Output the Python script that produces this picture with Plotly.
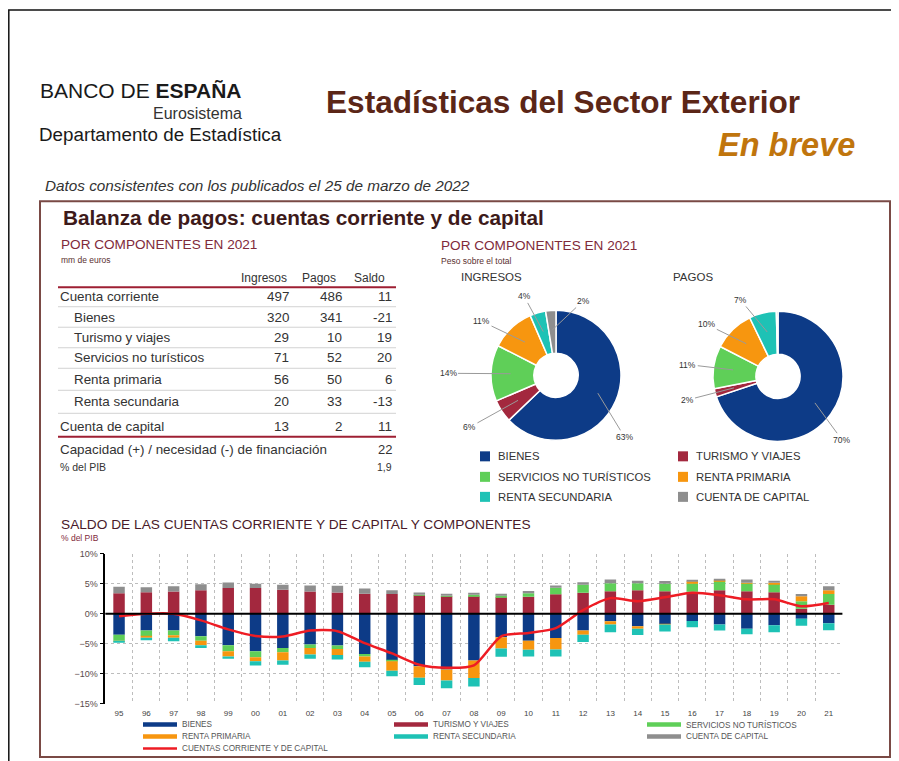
import math
import plotly.graph_objects as go

# page is 899x761; the browser body has an 8px margin. Coordinates below are page pixels.
OFF = 8
W, H = 899 - 2 * OFF, 761 - OFF
def X(px): return (px - OFF) / W
def Y(py):
    s = (py - 5.1) / 0.986
    return 1 - (s - OFF) / H

# ---------------- DATA ----------------
years = list(range(1995, 2022))
year_labels = ['95', '96', '97', '98', '99', '00', '01', '02', '03', '04', '05', '06', '07',
               '08', '09', '10', '11', '12', '13', '14', '15', '16', '17', '18', '19', '20', '21']

bienes = [-3.5, -2.8, -2.8, -3.75, -5.25, -6.25, -5.7, -5.1, -5.3, -6.7, -7.8, -8.75, -9.3,
          -7.8, -3.9, -4.5, -4.05, -2.8, -1.25, -2.1, -1.7, -1.2, -1.8, -2.5, -1.9, -0.85, -1.6]
turismo = [3.4, 3.6, 3.7, 3.9, 4.3, 4.3, 4.0, 3.7, 3.55, 3.35, 3.3, 3.1, 2.9,
           2.9, 2.75, 2.85, 3.25, 3.5, 3.75, 3.9, 3.75, 3.65, 3.9, 3.75, 3.6, 0.85, 1.5]
servicios = [-1.0, -0.9, -0.8, -0.75, -1.0, -1.0, -0.7, -0.6, -0.55, -0.4, -0.1, 0.05, 0.1,
             0.25, 0.3, 0.55, 1.1, 1.35, 1.35, 1.2, 1.25, 1.45, 1.6, 1.35, 1.4, 1.25, 1.8]
renta_prim = [-0.1, -0.3, -0.4, -0.75, -0.85, -0.65, -1.4, -1.1, -1.0, -0.9, -1.6, -1.9, -1.8,
              -2.9, -1.9, -1.5, -1.9, -0.7, -0.55, -0.4, -0.1, 0.3, 0.05, 0.05, 0.15, 0.8, 0.6]
renta_sec = [-0.2, -0.4, -0.6, -0.45, -0.4, -0.7, -0.7, -0.7, -0.75, -0.9, -0.9, -1.2, -1.3,
             -1.4, -1.35, -1.1, -1.15, -1.2, -1.3, -1.05, -1.15, -1.05, -1.0, -0.9, -1.2, -1.15, -1.15]
capital = [1.1, 0.8, 0.9, 1.0, 0.9, 0.7, 0.85, 1.0, 1.1, 0.85, 0.6, 0.4, 0.35,
           0.35, 0.3, 0.4, 0.35, 0.4, 0.6, 0.4, 0.45, 0.2, 0.3, 0.55, 0.35, 0.4, 0.7]
saldo_cc_kk = [-0.4, 0.0, 0.0, -1.1, -2.6, -3.7, -3.8, -2.8, -2.9, -4.9, -6.6, -8.5, -9.0,
               -8.6, -3.75, -3.2, -2.4, 0.6, 2.6, 2.1, 2.75, 3.5, 3.1, 2.4, 2.4, 1.25, 1.8]

series_names = ['BIENES', 'TURISMO Y VIAJES', 'SERVICIOS NO TURÍSTICOS',
                'RENTA PRIMARIA', 'RENTA SECUNDARIA', 'CUENTA DE CAPITAL']
line_name = 'CUENTAS CORRIENTE Y DE CAPITAL'

# Table (mm de euros, 2021)
table_rows = ['Cuenta corriente', 'Bienes', 'Turismo y viajes', 'Servicios no turísticos',
              'Renta primaria', 'Renta secundaria', 'Cuenta de capital']
table_ingresos = [497, 320, 29, 71, 56, 20, 13]
table_pagos = [486, 341, 10, 52, 50, 33, 2]
table_saldo = [11, -21, 19, 20, 6, -13, 11]
capacidad_label = 'Capacidad (+) / necesidad (-) de financiación'
capacidad_value = '22'
pib_label = '% del PIB'
pib_value = '1,9'

# Pie shares (components, same order as series_names)
ing_values = table_ingresos[1:]
pag_values = table_pagos[1:]
ing_pct_labels = ['63%', '6%', '14%', '11%', '4%', '2%']
pag_pct_labels = ['70%', '2%', '11%', '10%', '7%', None]

# ---------------- STYLE ----------------
colors = ['#0d3b87', '#a3283e', '#5fcf58', '#f7960f', '#1ec2b5', '#8e8e8e']
line_color = '#ee1c24'
FONT = 'Liberation Sans, Arial, sans-serif'
maroon = '#7f2a3a'
txtc = '#333333'

fig = go.Figure()

# ---------------- BAR CHART ----------------
bar_series = [bienes, turismo, servicios, renta_prim, renta_sec, capital]
for name, vals, c in zip(series_names, bar_series, colors):
    fig.add_trace(go.Bar(x=years, y=vals, name=name, marker=dict(color=c, line=dict(width=0)),
                         width=0.42, xaxis='x', yaxis='y', showlegend=False))
fig.add_trace(go.Scatter(x=years, y=saldo_cc_kk, name=line_name, mode='lines',
                         line=dict(color=line_color, width=2.5, shape='spline', smoothing=0.7),
                         xaxis='x', yaxis='y', showlegend=False))

# ---------------- PIES ----------------
R = 65
pie_specs = [
    (ing_values, 556, 375),
    (pag_values, 778, 376),
]
for vals, cx, cy in pie_specs:
    fig.add_trace(go.Pie(values=vals, labels=series_names, sort=False, direction='clockwise',
                         rotation=0, hole=0.34, textinfo='none', hoverinfo='label+percent',
                         marker=dict(colors=colors, line=dict(color='white', width=1.5)),
                         domain=dict(x=[X(cx - R), X(cx + R)], y=[Y(cy + R), Y(cy - R)]),
                         showlegend=False))

annotations = []
shapes = []

def txt(x, y, s, size, color=txtc, anchor='left', family=FONT, yanchor='middle'):
    annotations.append(dict(x=X(x), y=Y(y), xref='paper', yref='paper', text=s,
                            showarrow=False, xanchor=anchor, yanchor=yanchor,
                            borderpad=0, font=dict(size=size, color=color, family=family)))

def hline(x0, x1, y, color, width):
    shapes.append(dict(type='line', xref='paper', yref='paper', x0=X(x0), x1=X(x1),
                       y0=Y(y), y1=Y(y), line=dict(color=color, width=width)))

def pie_labels(values, texts, cx, cy, dang, dist):
    total = float(sum(values))
    cum = 0.0
    for v, t, da, d in zip(values, texts, dang, dist):
        share = v / total
        mid = (cum + share / 2) * 360
        cum += share
        if t is None:
            continue
        th = math.radians(mid)
        hx = cx + 0.7 * R * math.sin(th)
        hy = cy - 0.7 * R * math.cos(th)
        th2 = math.radians(mid + da)
        lx = cx + d * math.sin(th2)
        ly = cy - d * math.cos(th2)
        annotations.append(dict(x=X(hx), y=Y(hy), xref='paper', yref='paper', text=t,
                                showarrow=True, arrowhead=0, arrowwidth=1, arrowcolor='#9a9a9a',
                                standoff=0, ax=lx - hx, ay=ly - hy,
                                font=dict(size=8.5, color='#333', family=FONT)))

pie_labels(ing_values, ing_pct_labels, 556, 375,
           [18.8, 2.4, -0.9, -10.9, -5.7, 24.6], [92, 101, 108, 92, 85, 79])
pie_labels(pag_values, pag_pct_labels, 778, 376,
           [9, 0.1, -0.7, -9.7, -12.5, 0], [90, 94, 91, 88, 85, 0])

# ---------------- FRAMES ----------------
shapes.append(dict(type='rect', xref='paper', yref='paper', x0=X(8.8), x1=X(920), y0=Y(800), y1=Y(10),
                   line=dict(color='#111', width=1.5)))
shapes.append(dict(type='rect', xref='paper', yref='paper', x0=X(40), x1=X(890), y0=Y(756.5), y1=Y(201),
                   line=dict(color='#7a4a45', width=2)))

# ---------------- HEADER ----------------
txt(39, 90, 'BANCO DE <b>ESPAÑA</b>', 21, '#1a1a1a')
txt(243, 113, 'Eurosistema', 16, '#333', anchor='right')
txt(38, 134, 'Departamento de Estadística', 18.8, '#1a1a1a')
txt(325, 102, '<b>Estadísticas del Sector Exterior</b>', 31.6, '#5b2617')
txt(856, 145, '<b><i>En breve</i></b>', 32.5, '#c0750d', anchor='right')
txt(44, 185, '<i>Datos consistentes con los publicados el 25 de marzo de 2022</i>', 15.3, '#333')

# ---------------- BOX TITLES ----------------
txt(62, 217, '<b>Balanza de pagos: cuentas corriente y de capital</b>', 20.8, '#3d1a1a')
txt(60, 244, 'POR COMPONENTES EN 2021', 13.6, maroon)
txt(60, 260, 'mm de euros', 8.5, '#5a3030')
txt(440, 245, 'POR COMPONENTES EN 2021', 13.6, maroon)
txt(440, 260.5, 'Peso sobre el total', 8.5, '#5a3030')
txt(460, 277, 'INGRESOS', 11.5, '#333')
txt(672, 277, 'PAGOS', 11.5, '#333')
txt(60, 524, 'SALDO DE LAS CUENTAS CORRIENTE Y DE CAPITAL Y COMPONENTES', 13.7, '#4a1a2a')
txt(60, 538, '% del PIB', 8.5, maroon)

# ---------------- TABLE ----------------
col_x = [288.5, 341.5, 391.5]
txt(288, 278, 'Ingresos', 12, anchor='right')
txt(337, 278, 'Pagos', 12, anchor='right')
txt(386, 278, 'Saldo', 12, anchor='right')
hline(58, 396, 287, '#9e1f33', 2)
row_y = [296.5, 317, 337.5, 357.5, 379, 401.5, 426.5]
row_indent = [59, 73, 73, 73, 73, 73, 59]
sep_y = [306.5, 327, 347.5, 368, 390, 413]
for i, lab in enumerate(table_rows):
    y = row_y[i]
    txt(row_indent[i], y, lab, 13.4)
    for cx, v in zip(col_x, (table_ingresos[i], table_pagos[i], table_saldo[i])):
        txt(cx + 1, y, str(v), 13.4, anchor='right')
for y in sep_y:
    hline(58, 396, y, '#d2d2d2', 1)
hline(58, 396, 436.5, '#9e1f33', 2)
txt(59, 449, capacidad_label, 13.4)
txt(392.5, 449, capacidad_value, 13, anchor='right')
txt(59, 467, pib_label, 10.5)
txt(392.5, 467, pib_value, 10.5, anchor='right')

# ---------------- PIE LEGEND ----------------
pl_cols = [(480, 497), (678, 695)]
pl_rows = [456, 476.5, 496.5]
for i, (name, c) in enumerate(zip(series_names, colors)):
    sx, tx = pl_cols[i % 2]
    yy = pl_rows[i // 2]
    shapes.append(dict(type='rect', xref='paper', yref='paper', x0=X(sx), x1=X(sx + 10),
                       y0=Y(yy + 5), y1=Y(yy - 5), line=dict(width=0), fillcolor=c))
    txt(tx, yy, name, 11.3, '#333')

# ---------------- BAR LEGEND ----------------
bl_cols = [(143, 181), (394, 432), (647, 685)]
bl_rows = [724, 736, 748]
leg_items = list(zip(series_names, colors)) + [(line_name, line_color)]
for i, (name, c) in enumerate(leg_items):
    sx, tx = bl_cols[i % 3]
    yy = bl_rows[i // 3]
    w = 4.5 if i < 6 else 2.5
    hline(sx, sx + 34, yy, c, w)
    txt(tx, yy, name, 8.2, '#555')

# zero line above bars
shapes.append(dict(type='line', xref='x domain', yref='y', x0=0, x1=1, y0=0, y1=0,
                   line=dict(color='black', width=2), layer='above'))

fig.update_layout(
    width=W, height=H, margin=dict(l=0, r=0, t=0, b=0),
    paper_bgcolor='white', plot_bgcolor='white',
    barmode='relative', showlegend=False,
    font=dict(family=FONT, color=txtc),
    annotations=annotations, shapes=shapes,
    xaxis=dict(domain=[X(105.4), X(842.4)], range=[1994.5, 2021.5],
               tickmode='array', tickvals=years, ticktext=year_labels,
               tickfont=dict(size=8, color='#444'), ticks='outside', ticklen=2, tickcolor='white',
               showgrid=False, zeroline=False, showline=False,
               minor=dict(tickmode='array', tickvals=[y + 0.5 for y in years], showgrid=True,
                          gridcolor='#bdbdbd', griddash='dot', gridwidth=1, ticks='')),
    yaxis=dict(domain=[Y(703.3), Y(553.3)], range=[-15, 10], dtick=5, ticksuffix='%',
               tickfont=dict(size=9, color='#5a4a4a'), ticks='outside', ticklen=4,
               tickcolor='black', showline=True, linecolor='black', linewidth=1.5,
               showgrid=True, gridcolor='#bdbdbd', griddash='dot', gridwidth=1, zeroline=False),
)

fig.write_html('out.html')
